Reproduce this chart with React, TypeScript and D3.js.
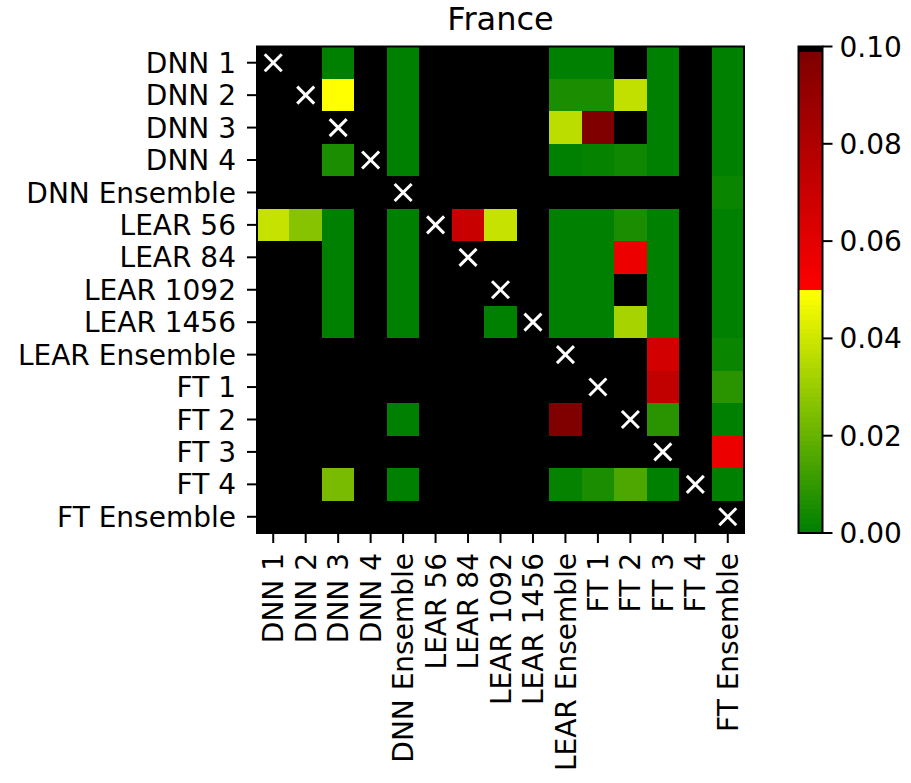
import React from "react";
import * as d3 from "d3";

const models = [
  "DNN 1", "DNN 2", "DNN 3", "DNN 4", "DNN Ensemble",
  "LEAR 56", "LEAR 84", "LEAR 1092", "LEAR 1456", "LEAR Ensemble",
  "FT 1", "FT 2", "FT 3", "FT 4", "FT Ensemble",
];

// p-values (1 means >= 0.1, drawn black); diagonal is marked with an X
const B = 1;
const pDNN1 = [B, B, 0.0, B, 0.0, B, B, B, B, 0.0, 0.0, B, 0.0, B, 0.0];
const pDNN2 = [B, B, 0.0495, B, 0.0, B, B, B, B, 0.005, 0.005, 0.038, 0.0, B, 0.0];
const pDNN3 = [B, B, B, B, 0.0, B, B, B, B, 0.037, 0.0985, B, 0.0, B, 0.0];
const pDNN4 = [B, B, 0.005, B, 0.0, B, B, B, B, 0.0, 0.001, 0.003, 0.0, B, 0.0];
const pDNNEns = [B, B, B, B, B, B, B, B, B, B, B, B, B, B, 0.002];
const pLEAR56 = [0.0385, 0.027, 0.0, B, 0.0, B, 0.071, 0.0385, B, 0.0, 0.0, 0.005, 0.0, B, 0.0];
const pLEAR84 = [B, B, 0.0, B, 0.0, B, B, B, B, 0.0, 0.0, 0.0565, 0.0, B, 0.0];
const pLEAR1092 = [B, B, 0.0, B, 0.0, B, B, B, B, 0.0, 0.0, B, 0.0, B, 0.0];
const pLEAR1456 = [B, B, 0.0, B, 0.0, B, B, 0.0, B, 0.0, 0.0, 0.0325, 0.0, B, 0.0];
const pLEAREns = [B, B, B, B, B, B, B, B, B, B, B, B, 0.066, B, 0.002];
const pFT1 = [B, B, B, B, B, B, B, B, B, B, B, B, 0.0735, B, 0.0085];
const pFT2 = [B, B, B, B, 0.0, B, B, B, B, 0.0985, B, B, 0.008, B, 0.0];
const pFT3 = [B, B, B, B, B, B, B, B, B, B, B, B, B, B, 0.0565];
const pFT4 = [B, B, 0.0235, B, 0.0, B, B, B, B, 0.001, 0.005, 0.0155, 0.0, B, 0.0];
const pFTEns = [B, B, B, B, B, B, B, B, B, B, B, B, B, B, B];

const pValues = [
  pDNN1, pDNN2, pDNN3, pDNN4, pDNNEns,
  pLEAR56, pLEAR84, pLEAR1092, pLEAR1456, pLEAREns,
  pFT1, pFT2, pFT3, pFT4, pFTEns,
];

const colorbarTicks = [0, 0.02, 0.04, 0.06, 0.08, 0.1];
const title = "France";

// red-green-black colormap (100 bins over [0, 0.1])
function cmap(v: number): string {
  let idx = Math.floor((v / 0.1) * 100);
  if (idx < 0) idx = 0;
  if (idx > 99) idx = 99;
  let r = 0, g = 0;
  if (idx < 50) {
    r = idx / 49;
    g = 0.5 + 0.5 * (idx / 49);
  } else if (idx < 99) {
    r = 1 - 0.5 * ((idx - 49) / 49);
    g = 0;
  } else {
    r = 0; g = 0;
  }
  return d3.rgb(Math.round(r * 255), Math.round(g * 255), 0).formatHex();
}

const FONT = "DejaVu Sans";

export default function App() {
  const W = 911, H = 783;
  const left = 257, right = 744, top = 46.5, bottom = 533;
  const x = d3.scaleBand<string>().domain(models).range([left, right]);
  const y = d3.scaleBand<string>().domain(models).range([top, bottom]);
  const cw = x.bandwidth();
  const ch = y.bandwidth();

  const cbLeft = 798.5, cbRight = 822.5;
  const cy = d3.scaleLinear().domain([0, 0.1]).range([bottom, top]);
  const bins = d3.range(100).map((i) => i * 0.001);

  const fs = 28;
  const xs = 8.5;

  return (
    <svg
      width={W}
      height={H}
      style={{ position: "absolute", left: 0, top: 0, background: "#fff" }}
      fontFamily={FONT}
    >
      <rect x={0} y={0} width={W} height={H} fill="#fff" />
      <text x={(left + right) / 2} y={30} textAnchor="middle" fontSize={32} fill="#000">
        {title}
      </text>

      <g shapeRendering="crispEdges">
        {pValues.map((row, i) =>
          row.map((v, j) => (
            <rect
              key={`c${i}-${j}`}
              x={x(models[j])!}
              y={y(models[i])!}
              width={cw + 0.6}
              height={ch + 0.6}
              fill={cmap(v)}
            />
          ))
        )}
      </g>

      {models.map((m) => {
        const cx = x(m)! + cw / 2;
        const cyy = y(m)! + ch / 2;
        return (
          <g key={`x${m}`} stroke="#fff" strokeWidth={3}>
            <line x1={cx - xs} y1={cyy - xs} x2={cx + xs} y2={cyy + xs} />
            <line x1={cx - xs} y1={cyy + xs} x2={cx + xs} y2={cyy - xs} />
          </g>
        );
      })}

      <rect x={left} y={top} width={right - left} height={bottom - top} fill="none" stroke="#000" strokeWidth={2} />

      {models.map((m) => {
        const yy = y(m)! + ch / 2;
        return (
          <g key={`yt${m}`}>
            <line x1={left - 10} x2={left} y1={yy} y2={yy} stroke="#000" strokeWidth={2} />
            <text x={236} y={yy} dy="0.36em" textAnchor="end" fontSize={fs} fill="#000">
              {m}
            </text>
          </g>
        );
      })}

      {models.map((m) => {
        const xx = x(m)! + cw / 2;
        return (
          <g key={`xt${m}`}>
            <line x1={xx} x2={xx} y1={bottom} y2={bottom + 10} stroke="#000" strokeWidth={2} />
            <text
              transform={`translate(${xx},${553}) rotate(-90)`}
              dy="0.36em"
              textAnchor="end"
              fontSize={fs}
              fill="#000"
            >
              {m}
            </text>
          </g>
        );
      })}

      <g shapeRendering="crispEdges">
        {bins.map((b) => (
          <rect
            key={`cb${b}`}
            x={cbLeft}
            y={cy(b + 0.001)}
            width={cbRight - cbLeft}
            height={cy(b) - cy(b + 0.001) + 0.6}
            fill={cmap(b + 0.0005)}
          />
        ))}
      </g>
      <rect x={cbLeft} y={top} width={cbRight - cbLeft} height={bottom - top} fill="none" stroke="#000" strokeWidth={2} />
      {colorbarTicks.map((t) => (
        <g key={`ct${t}`}>
          <line x1={cbRight} x2={cbRight + 10} y1={cy(t)} y2={cy(t)} stroke="#000" strokeWidth={2} />
          <text x={cbRight + 17} y={cy(t)} dy="0.36em" fontSize={fs} fill="#000">
            {t.toFixed(2)}
          </text>
        </g>
      ))}
    </svg>
  );
}
